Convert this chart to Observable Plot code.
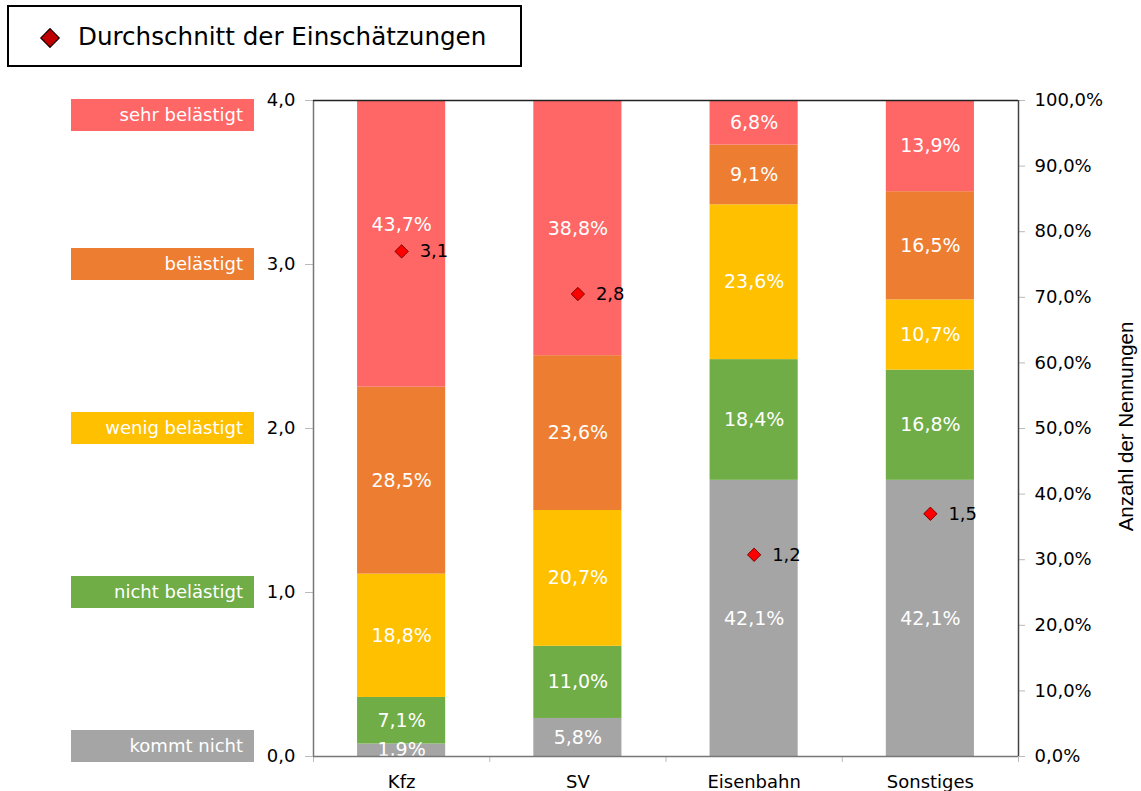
<!DOCTYPE html>
<html>
<head>
<meta charset="utf-8">
<script src="https://cdn.jsdelivr.net/npm/d3@7"></script>
<script src="https://cdn.jsdelivr.net/npm/@observablehq/plot@0.6"></script>
<style>
  html, body { margin: 0; padding: 0; background: #fff; }
  #wrap { position: relative; width: 1141px; height: 791px; overflow: hidden; font-family: "DejaVu Sans", Verdana, sans-serif; }
  #chart { position: absolute; left: 0; top: 0; }
  .legend { position: absolute; left: 7px; top: 5px; width: 511px; height: 58px; border: 2px solid #000; background: #fff; }
  .legend .dia { position: absolute; left: 34px; top: 24px; width: 12px; height: 12px; background: #C00000; border: 1px solid #000; transform: rotate(45deg); }
  .legend .txt { position: absolute; left: 69px; top: 15px; font-size: 24.6px; color: #000; white-space: nowrap; }
  .lvl { position: absolute; height: 32px; line-height: 32px; color: #fff; font-size: 18px; text-align: right; box-sizing: border-box; padding-right: 11px; white-space: nowrap; }
</style>
</head>
<body>
<div id="wrap">
  <div id="chart"></div>
  <div class="legend"><div class="dia"></div><div class="txt">Durchschnitt der Einschätzungen</div></div>
</div>
<script>
const categories = ["Kfz", "SV", "Eisenbahn", "Sonstiges"];
const levels = ["kommt nicht", "nicht belästigt", "wenig belästigt", "belästigt", "sehr belästigt"];
const levelColors = ["#A5A5A5", "#70AD47", "#FFC000", "#ED7D31", "#FF6666"];
const kfz = [1.9, 7.1, 18.8, 28.5, 43.7];
const sv = [5.8, 11.0, 20.7, 23.6, 38.8];
const eisenbahn = [42.1, 18.4, 23.6, 9.1, 6.8];
const sonstiges = [42.1, 16.8, 10.7, 16.5, 13.9];
const averages = [3.08, 2.82, 1.23, 1.48];
const leftTicks = [0, 1, 2, 3, 4];
const rightTicks = [0, 10, 20, 30, 40, 50, 60, 70, 80, 90, 100];
const rightTitle = "Anzahl der Nennungen";

const series = [kfz, sv, eisenbahn, sonstiges];
const rows = [];
series.forEach((vals, i) => {
  let acc = 0;
  vals.forEach((v, j) => {
    const mid = acc + v / 2;
    // move a value label up if it would collide with the average marker
    const clash = Math.abs(mid - averages[i] * 25) < 3;
    rows.push({cat: categories[i], i, level: levels[j], value: v, y1: acc, y2: acc + v, clash});
    acc += v;
  });
});
const avgRows = averages.map((a, i) => ({cat: categories[i], i, avg: a}));
const comma = (v, d) => v.toFixed(d).replace(".", ",");

const chart = Plot.plot({
  width: 1141,
  height: 791,
  marginLeft: 313,
  marginRight: 123,
  marginTop: 100,
  marginBottom: 35,
  x: {domain: [0, 4], axis: null},
  y: {domain: [0, 100], axis: null},
  color: {domain: levels, range: levelColors},
  style: {fontFamily: "DejaVu Sans, Verdana, sans-serif", fontSize: "18px", background: "#fff", color: "#000"},
  marks: [
    Plot.rect(rows, {x1: d => d.i + 0.25, x2: d => d.i + 0.75, y1: "y1", y2: "y2", fill: "level"}),
    Plot.text(rows.filter(d => !d.clash), {x: d => d.i + 0.5, y: d => (d.y1 + d.y2) / 2, text: d => comma(d.value, 1) + "%", fill: "#fff", fontSize: 19}),
    Plot.text(rows.filter(d => d.clash), {x: d => d.i + 0.5, y: d => (d.y1 + d.y2) / 2, dy: -19, text: d => comma(d.value, 1) + "%", fill: "#fff", fontSize: 19}),
    Plot.axisY({anchor: "left", ticks: leftTicks.map(v => v * 25), tickFormat: d => comma(d / 25, 1), tickSize: 8, tickPadding: 10, stroke: "#bbb", label: null}),
    Plot.axisY({anchor: "right", ticks: rightTicks, tickFormat: d => comma(d, 1) + "%", tickSize: 6, tickPadding: 10, stroke: "#bbb", label: null}),
    Plot.axisX({ticks: [0, 1, 2, 3, 4], tickFormat: () => "", tickSize: 6, stroke: "#bbb", label: null}),
    Plot.axisX({ticks: categories.map((c, i) => i + 0.5), tickFormat: d => categories[Math.floor(d)], tickSize: 0, tickPadding: 19, label: null}),
    Plot.ruleX([0], {stroke: "#777", strokeWidth: 1.5}),
    Plot.ruleY([0], {stroke: "#777", strokeWidth: 1.5}),
    Plot.ruleY([100], {stroke: "#222", strokeWidth: 1.5}),
    Plot.ruleX([4], {stroke: "#444", strokeWidth: 1.5}),
    Plot.text([rightTitle], {frameAnchor: "right", textAnchor: "middle", rotate: -90, dx: 108, dy: -2, fontFamily: "Liberation Sans, Arial, sans-serif", fontSize: 20.5, fill: "#000"}),
    Plot.dot(avgRows, {x: d => d.i + 0.5, y: d => d.avg * 25, symbol: "diamond2", r: 6, fill: "#FF0000", stroke: "#7F0000", strokeWidth: 1}),
    Plot.text(avgRows, {x: d => d.i + 0.5, y: d => d.avg * 25, text: d => comma(d.avg, 1), dx: 18, textAnchor: "start", fill: "#000", fontSize: 18})
  ]
});
document.getElementById("chart").appendChild(chart);

const yScale = chart.scale("y");
const wrap = document.getElementById("wrap");
levels.forEach((lv, j) => {
  const c = Math.max(115, Math.min(746, yScale.apply(leftTicks[j] * 25)));
  const el = document.createElement("div");
  el.className = "lvl";
  el.textContent = lv;
  el.style.background = levelColors[j];
  el.style.left = "71px";
  el.style.width = "183px";
  el.style.top = (c - 16) + "px";
  wrap.appendChild(el);
});
</script>
</body>
</html>
